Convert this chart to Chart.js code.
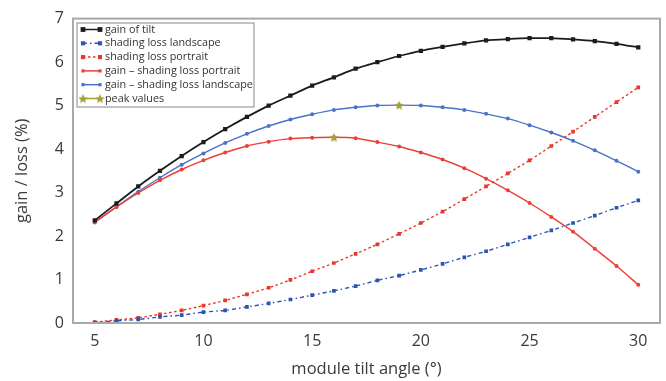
<!DOCTYPE html>
<html>
<head>
<meta charset="utf-8">
<script src="https://cdn.jsdelivr.net/npm/chart.js@4.4.1/dist/chart.umd.min.js"></script>
<style>
  html, body { margin: 0; padding: 0; background: #fff; }
  #wrap { width: 666px; height: 381px; position: relative; }
</style>
</head>
<body>
<div id="wrap"><canvas id="myChart" width="666" height="381"></canvas></div>
<script>
// module tilt angle (deg)
const angles = [5, 6, 7, 8, 9, 10, 11, 12, 13, 14, 15, 16, 17, 18, 19, 20, 21, 22, 23, 24, 25, 26, 27, 28, 29, 30];
const gainOfTilt = [2.36, 2.75, 3.14, 3.50, 3.84, 4.16, 4.46, 4.74, 5.00, 5.23, 5.46, 5.65, 5.85, 6.00, 6.14, 6.26, 6.35, 6.43, 6.50, 6.53, 6.55, 6.55, 6.52, 6.48, 6.42, 6.34];
const lossLandscape = [0.01, 0.05, 0.08, 0.14, 0.18, 0.25, 0.29, 0.37, 0.45, 0.54, 0.64, 0.74, 0.85, 0.98, 1.09, 1.22, 1.36, 1.51, 1.65, 1.81, 1.97, 2.13, 2.30, 2.47, 2.65, 2.82];
const lossPortrait = [0.02, 0.07, 0.12, 0.20, 0.29, 0.40, 0.52, 0.66, 0.81, 0.99, 1.19, 1.38, 1.59, 1.81, 2.05, 2.30, 2.56, 2.85, 3.14, 3.44, 3.74, 4.07, 4.40, 4.74, 5.08, 5.42];
const netPortrait = [2.32, 2.67, 2.99, 3.28, 3.53, 3.74, 3.92, 4.07, 4.17, 4.24, 4.26, 4.27, 4.25, 4.16, 4.06, 3.92, 3.76, 3.56, 3.32, 3.05, 2.76, 2.44, 2.10, 1.71, 1.31, 0.88];
const netLandscape = [2.31, 2.67, 3.02, 3.34, 3.64, 3.90, 4.14, 4.35, 4.53, 4.68, 4.80, 4.90, 4.96, 5.00, 5.01, 5.00, 4.96, 4.90, 4.81, 4.70, 4.55, 4.38, 4.19, 3.97, 3.73, 3.48];
const peakAngles = [16, 19];
const peakValues = [4.27, 5.01];
const xTicks = [5, 10, 15, 20, 25, 30];

const toPoints = (xs, ys) => xs.map((x, i) => ({ x, y: ys[i] }));

// 5 pointed star used as point style
const makeStar = (size, color) => {
  const c = document.createElement('canvas');
  c.width = size;
  c.height = size;
  const ctx = c.getContext('2d');
  const r = size / 2;
  ctx.beginPath();
  for (let i = 0; i < 10; i++) {
    const rad = i % 2 === 0 ? r : r * 0.45;
    const a = -Math.PI / 2 + (i * Math.PI) / 5;
    ctx.lineTo(r + rad * Math.cos(a), r + 0.5 + rad * Math.sin(a));
  }
  ctx.closePath();
  ctx.fillStyle = color;
  ctx.fill();
  return c;
};
const star = makeStar(10, '#a3a03a');

const FONT = "'Open Sans', 'Noto Sans', sans-serif";

const frame = {
  id: 'frame',
  afterDatasetsDraw(chart) {
    const { ctx, chartArea: a } = chart;
    ctx.save();
    ctx.strokeStyle = '#a9a9a9';
    ctx.lineWidth = 2;
    ctx.strokeRect(a.left, a.top, a.right - a.left, a.bottom - a.top);
    ctx.restore();
  },
};

const boxLegend = {
  id: 'boxLegend',
  afterDraw(chart) {
    const { ctx } = chart;
    const x0 = 77, y0 = 23, w = 177, h = 84;
    ctx.save();
    ctx.fillStyle = '#fff';
    ctx.fillRect(x0, y0, w, h);
    ctx.strokeStyle = '#9a9a9a';
    ctx.lineWidth = 1.2;
    ctx.strokeRect(x0, y0, w, h);
    ctx.font = `10.8px ${FONT}`;
    ctx.textBaseline = 'middle';
    chart.data.datasets.forEach((ds, i) => {
      const y = y0 + 6.5 + i * 13.8;
      const l = x0 + 6, r = x0 + 23;
      ctx.strokeStyle = ds.borderColor;
      ctx.lineWidth = 1.5;
      ctx.setLineDash(ds.borderDash || []);
      ctx.beginPath();
      ctx.moveTo(l, y);
      ctx.lineTo(r, y);
      ctx.stroke();
      ctx.setLineDash([]);
      [l, r].forEach((px) => {
        if (ds.pointStyle === star) {
          ctx.drawImage(star, px - 5, y - 5, 10, 10);
        } else {
          const s = ds.pointRadius * 1.6;
          ctx.fillStyle = ds.pointBackgroundColor;
          ctx.fillRect(px - s / 2, y - s / 2, s, s);
        }
      });
      ctx.fillStyle = '#333';
      ctx.fillText(ds.label, x0 + 28, y);
    });
    ctx.restore();
  },
};

const line = (label, values, color, opts) => ({
  label,
  data: toPoints(angles, values),
  borderColor: color,
  backgroundColor: color,
  pointBackgroundColor: color,
  pointBorderWidth: 0,
  borderWidth: 1.4,
  tension: 0.2,
  order: 1,
  ...opts,
});

new Chart(document.getElementById('myChart').getContext('2d'), {
  type: 'line',
  data: {
    datasets: [
      line('gain of tilt', gainOfTilt, '#1c1c1c', { pointStyle: 'rect', pointRadius: 3, borderWidth: 1.8 }),
      line('shading loss landscape', lossLandscape, '#2b55b5', { pointStyle: 'rect', pointRadius: 2.6, borderDash: [4, 3, 1.5, 3] }),
      line('shading loss portrait', lossPortrait, '#e8382d', { pointStyle: 'rect', pointRadius: 2.6, borderDash: [2.5, 2.5] }),
      line('gain \u2013 shading loss portrait', netPortrait, '#ec4035', { pointStyle: 'circle', pointRadius: 2 }),
      line('gain \u2013 shading loss landscape', netLandscape, '#4a72c6', { pointStyle: 'circle', pointRadius: 2 }),
      {
        label: 'peak values',
        data: toPoints(peakAngles, peakValues),
        borderColor: '#a3a03a',
        backgroundColor: '#a3a03a',
        pointBackgroundColor: '#a3a03a',
        borderWidth: 1,
        showLine: false,
        pointStyle: star,
        pointRadius: 5,
        order: -1,
      },
    ],
  },
  options: {
    responsive: false,
    animation: false,
    events: [],
    layout: { padding: { top: 17, right: 6 } },
    plugins: { legend: { display: false }, tooltip: { enabled: false } },
    scales: {
      x: {
        type: 'linear',
        min: 4,
        max: 31,
        afterBuildTicks: (axis) => { axis.ticks = xTicks.map((v) => ({ value: v })); },
        afterFit: (axis) => { axis.height = 58; },
        grid: { display: false, drawTicks: false },
        border: { display: false },
        ticks: { color: '#3a3a3a', padding: 9, font: { family: FONT, size: 16 } },
        title: {
          display: true,
          text: 'module tilt angle (\u00b0)',
          color: '#3a3a3a',
          font: { family: FONT, size: 16.5 },
          padding: { top: 0, bottom: 2 },
        },
      },
      y: {
        min: 0,
        max: 7,
        ticks: { stepSize: 1, color: '#3a3a3a', padding: 9, font: { family: FONT, size: 16 } },
        afterFit: (axis) => { axis.width = 73; },
        grid: { display: false, drawTicks: false },
        border: { display: false },
        title: {
          display: true,
          text: 'gain / loss (%)',
          color: '#3a3a3a',
          font: { family: FONT, size: 16.5 },
          padding: { top: 12, bottom: 0 },
        },
      },
    },
  },
  plugins: [frame, boxLegend],
});
</script>
</body>
</html>
